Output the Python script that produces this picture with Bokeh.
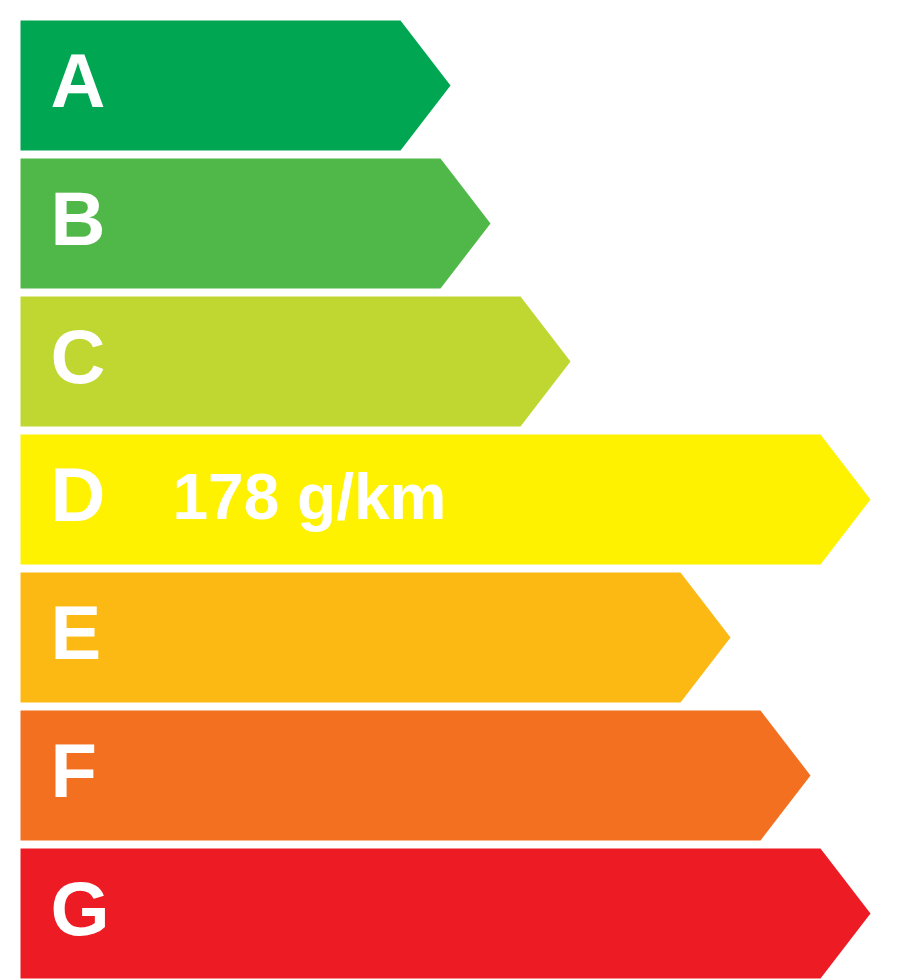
from bokeh.plotting import figure
from bokeh.models import Range1d, ColumnDataSource
from bokeh.core.properties import value
from bokeh.embed import file_html
from bokeh.resources import INLINE

# ---- data ----
classes = ["A", "B", "C", "D", "E", "F", "G"]
colors = ["#00A651", "#50B848", "#BFD730", "#FFF200", "#FDB913", "#F37021", "#ED1C24"]
bar_lengths = [380, 420, 500, 800, 660, 740, 800]
highlight_class = "D"
highlight_label = "178 g/km"

# ---- layout constants (styling) ----
ROW_H = 130
ROW_STEP = 138
TOP0 = 20
TIP = 50

W, H = 900, 980
p = figure(width=W, height=H, output_backend="svg", toolbar_location=None,
           x_range=Range1d(-20, W - 20), y_range=Range1d(H, 0),
           min_border=0)
p.axis.visible = False
p.grid.visible = False
p.outline_line_color = None
p.background_fill_color = "white"
p.border_fill_color = "white"

xs, ys, lx, ly = [], [], [], []
for i, (c, L) in enumerate(zip(classes, bar_lengths)):
    top = TOP0 + ROW_STEP * i
    bot = top + ROW_H
    mid = (top + bot) / 2
    xs.append([0, L, L + TIP, L, 0])
    ys.append([top, top, mid, bot, bot])
    lx.append(30)
    ly.append(top + 60)

src = ColumnDataSource(dict(xs=xs, ys=ys, color=colors))
p.patches("xs", "ys", source=src, fill_color="color", line_color=None)

tsrc = ColumnDataSource(dict(x=lx, y=ly, t=classes))
p.text("x", "y", text="t", source=tsrc, text_color="white",
       text_font=value("Liberation Sans"), text_font_style="bold",
       text_font_size="76px", text_baseline="alphabetic", text_align="left")

hi = classes.index(highlight_class)
vsrc = ColumnDataSource(dict(x=[152], y=[TOP0 + ROW_STEP * hi + 62], t=[highlight_label]))
p.text("x", "y", text="t", source=vsrc, text_color="white",
       text_font=value("Liberation Sans"), text_font_style="bold",
       text_font_size="64px", text_baseline="alphabetic", text_align="left")

open("out.html", "w").write(file_html(p, INLINE))
